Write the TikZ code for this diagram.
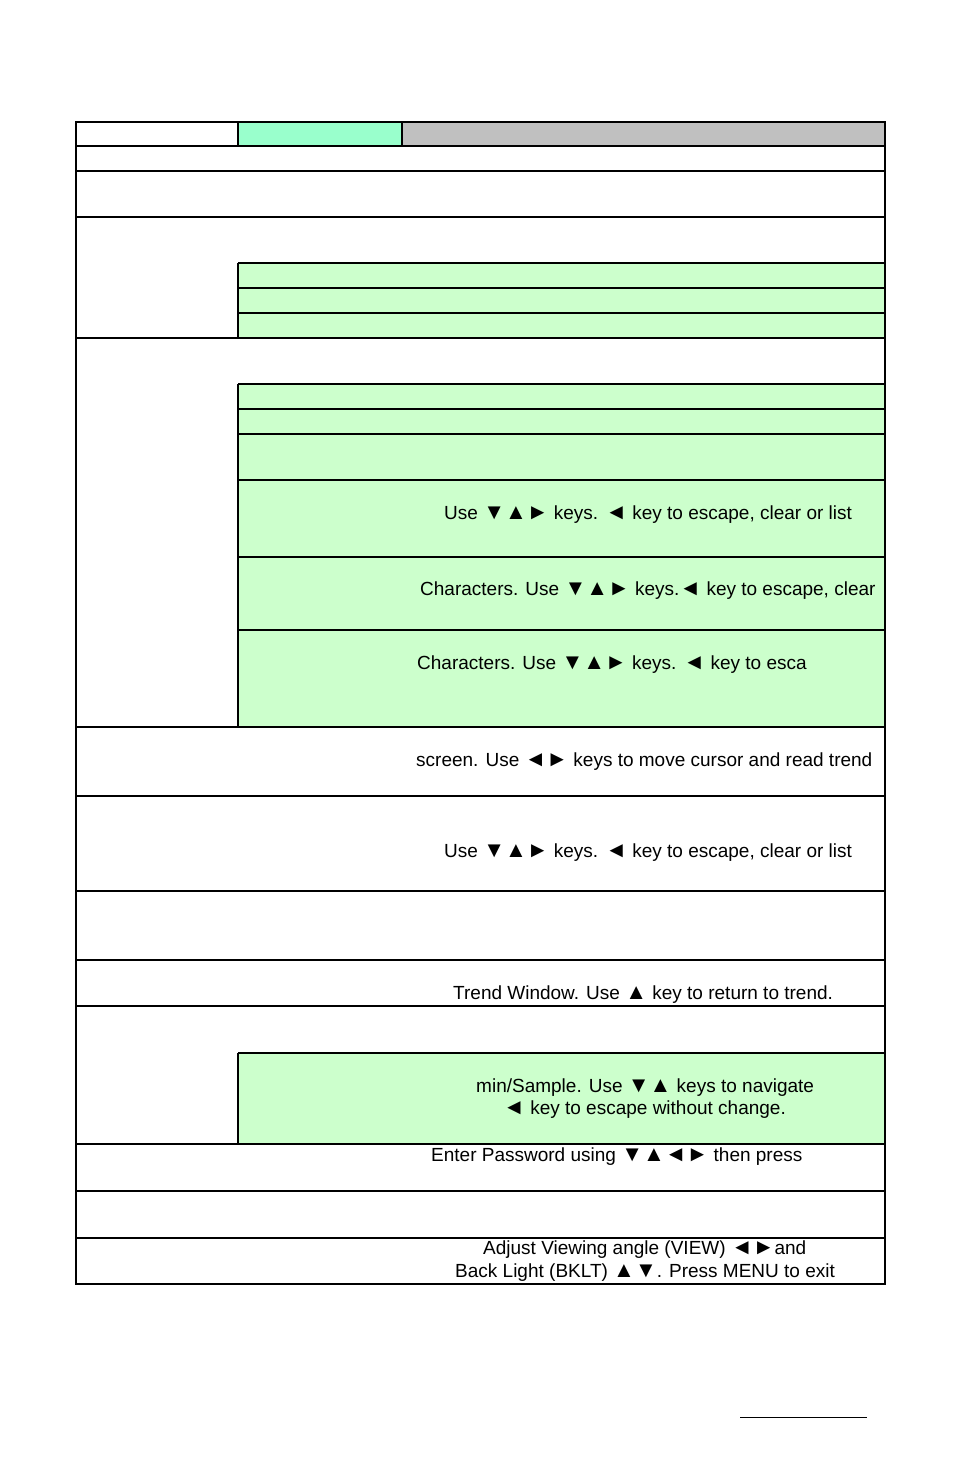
\documentclass[tikz,border=0pt]{standalone}
\usepackage{fontspec}
\setmainfont{Liberation Sans}
\newcommand{\sy}[1]{{\fontsize{22}{20}\selectfont #1}}
\definecolor{aqua}{HTML}{99FFCC}
\definecolor{grayc}{HTML}{C0C0C0}
\definecolor{lgreen}{HTML}{CCFFCC}
\begin{document}
\begin{tikzpicture}[x=1pt,y=-1pt,
  txt/.style={anchor=west,inner sep=0pt,font=\fontsize{19}{22}\selectfont},
  rule/.style={line width=1.3pt},
  thick rule/.style={line width=2pt}]
\useasboundingbox (0,0) rectangle (954,1475);
% fills
\fill[aqua] (238,122) rectangle (402,146);
\fill[grayc] (402,122) rectangle (885,146);
\fill[lgreen] (238,263) rectangle (885,338);
\fill[lgreen] (238,384) rectangle (885,727);
\fill[lgreen] (238,1053) rectangle (885,1144);
% header verticals
\draw[rule] (238,122) -- (238,146);
\draw[rule] (402,122) -- (402,146);
% full-width horizontal lines
\foreach \y in {146,217,338,796,891,960,1006,1191,1238}
  \draw[rule] (76,\y) -- (885,\y);
\foreach \y in {171,727,1144}
  \draw[thick rule] (76,\y) -- (885,\y);
% sub-row lines
\foreach \y in {288,313,409,434,480,557,630}
  \draw[rule] (238,\y) -- (885,\y);
\foreach \y in {263,384,1053}
  \draw[thick rule] (238,\y) -- (885,\y);
% sub-column verticals
\draw[thick rule] (238,263) -- (238,338);
\draw[thick rule] (238,384) -- (238,727);
\draw[thick rule] (238,1053) -- (238,1144);
% outer frame
\draw[thick rule] (76,122) rectangle (885,1284);
% texts
\node[txt] (t1) at (444,515) {Use \sy{▼▲►} keys. \sy{◄} key to escape, clear or list};
\node[txt] (t2) at (420,591) {Characters. Use \sy{▼▲►} keys.\sy{◄} key to escape, clear};
\node[txt] (t3) at (417,665) {Characters. Use \sy{▼▲►} keys. \sy{◄} key to esca};
\node[txt] (t4) at (416,762) {screen. Use \sy{◄►} keys to move cursor and read trend};
\node[txt] (t5) at (444,853) {Use \sy{▼▲►} keys. \sy{◄} key to escape, clear or list};
\node[txt] (t6) at (453,995) {Trend Window. Use \sy{▲} key to return to trend.};
\node[txt] (t7) at (476,1088) {min/Sample. Use \sy{▼▲} keys to navigate};
\node[txt] (t8) at (503,1110) {\sy{◄} key to escape without change.};
\node[txt] (t9) at (431,1157) {Enter Password using \sy{▼▲◄►} then press};
\node[txt] (t10) at (483,1250) {Adjust Viewing angle (VIEW) \sy{◄►}and};
\node[txt] (t11) at (455,1273) {Back Light (BKLT) \sy{▲▼}. Press MENU to exit};
% footer line
\draw[line width=1pt] (740,1417) -- (867,1417);
\end{tikzpicture}
\end{document}
